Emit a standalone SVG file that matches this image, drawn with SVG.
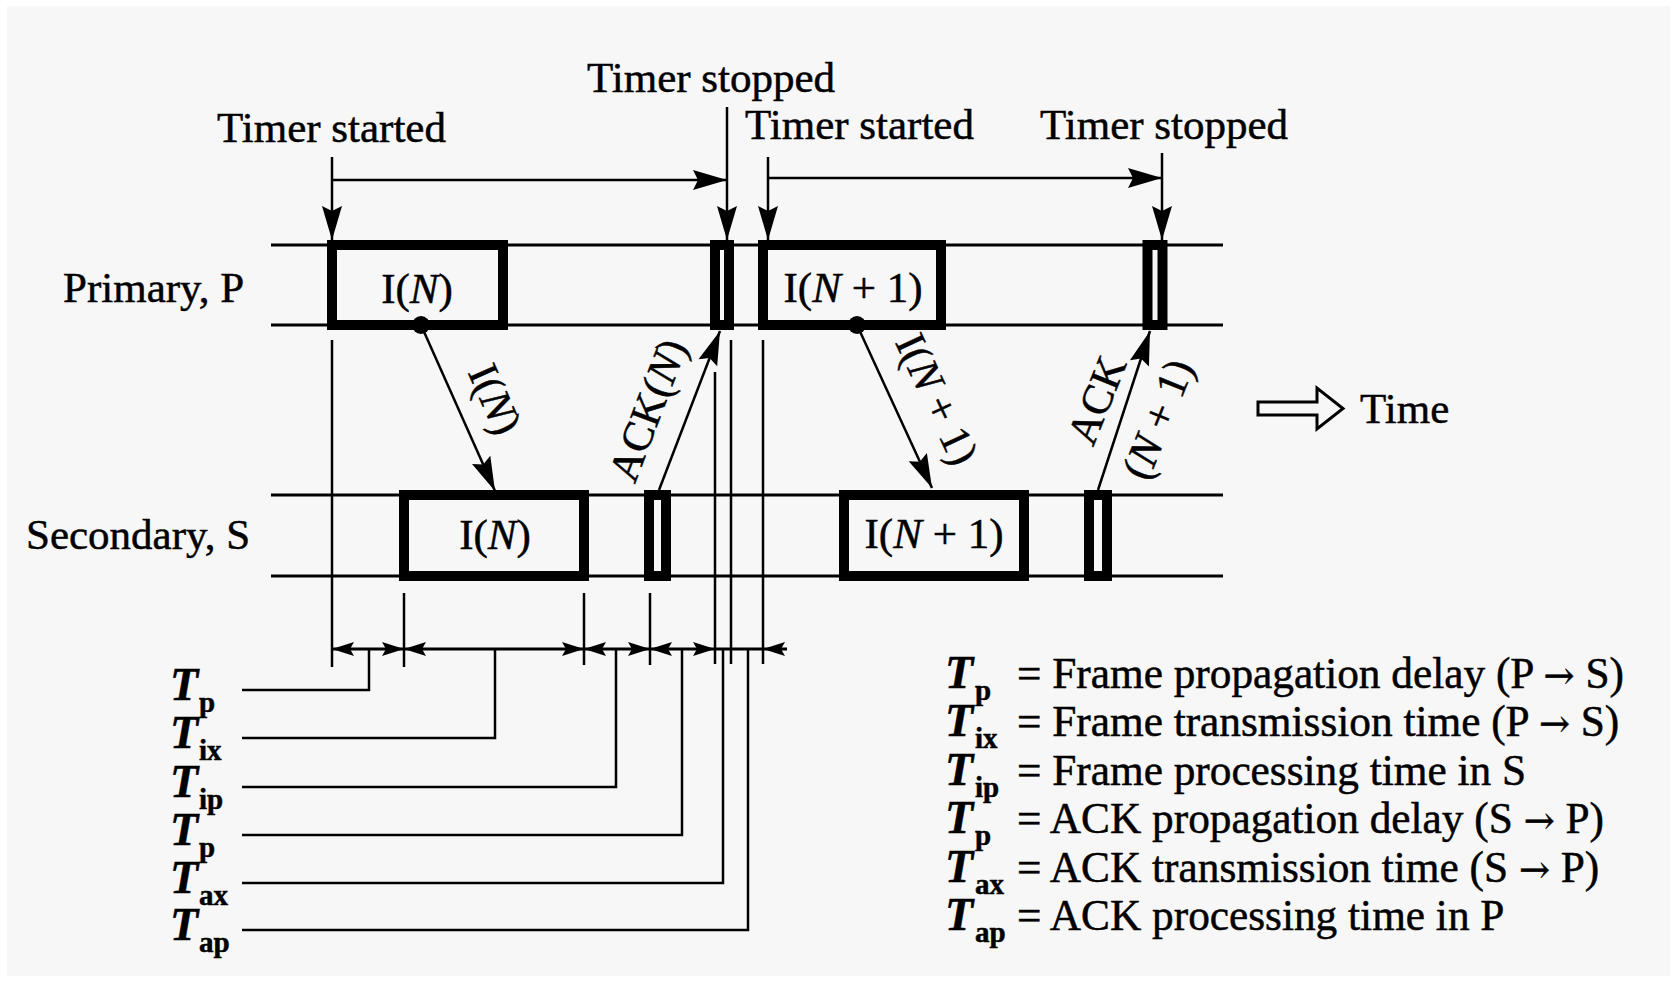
<svg xmlns="http://www.w3.org/2000/svg" width="1678" height="981" viewBox="0 0 1678 981">
<style>
text{font-family:"Liberation Serif","Times New Roman",serif;fill:#000;stroke:#000;stroke-width:0.5}
.t{font-size:43px}
.lg{font-size:43.3px}
.ar{font-family:"DejaVu Serif",serif;font-size:37px}
.it{font-style:italic}
.T{font-size:46px;font-style:italic;font-weight:bold}
.sub{font-size:29px;font-weight:bold}
.ln{stroke:#000;stroke-width:3;fill:none}
.thin{stroke:#000;stroke-width:2.5;fill:none}
.box{stroke:#000;stroke-width:10;fill:none}
</style>
<defs>
<marker id="ah" markerUnits="userSpaceOnUse" markerWidth="40" markerHeight="24" viewBox="-36 -12 40 24" refX="0" refY="0" orient="auto">
<path d="M0,0 L-34,-10 L-29,0 L-34,10 Z" fill="#000"/>
</marker>
<path id="dl" d="M0,0 L22,-7 L18,0 L22,7 Z" fill="#000"/>
<path id="dr" d="M0,0 L-22,-7 L-18,0 L-22,7 Z" fill="#000"/>
</defs>
<rect x="0" y="0" width="1678" height="981" fill="#ffffff"/>
<rect x="7" y="6" width="1663" height="970" fill="#f7f7f7"/>

<g id="timelines">
<line class="ln" x1="271" y1="245" x2="1223" y2="245"/>
<line class="ln" x1="271" y1="325" x2="1223" y2="325"/>
<line class="ln" x1="271" y1="495" x2="1223" y2="495"/>
<line class="ln" x1="271" y1="576" x2="1223" y2="576"/>
</g>

<g id="label-primary"><text class="t" x="63" y="302">Primary, P</text></g>
<g id="label-secondary"><text class="t" x="26" y="549">Secondary, S</text></g>

<g id="frame-IN-P"><rect class="box" x="332" y="245" width="171" height="80"/><text class="t" x="417" y="303" text-anchor="middle">I(<tspan class="it">N</tspan>)</text></g>
<g id="ack-N-P"><rect class="box" x="715" y="245" width="14" height="80"/></g>
<g id="frame-IN1-P"><rect class="box" x="763" y="245" width="178" height="80"/><text class="t" x="853" y="302" text-anchor="middle">I(<tspan class="it">N</tspan> + 1)</text></g>
<g id="ack-N1-P"><rect class="box" x="1147.5" y="245" width="15" height="80"/></g>

<g id="frame-IN-S"><rect class="box" x="404" y="495" width="180" height="81"/><text class="t" x="495" y="549" text-anchor="middle">I(<tspan class="it">N</tspan>)</text></g>
<g id="ack-N-S"><rect class="box" x="649" y="495" width="17" height="81"/></g>
<g id="frame-IN1-S"><rect class="box" x="844" y="495" width="180" height="81"/><text class="t" x="934" y="548" text-anchor="middle">I(<tspan class="it">N</tspan> + 1)</text></g>
<g id="ack-N1-S"><rect class="box" x="1089" y="495" width="18" height="81"/></g>

<g id="timer-labels">
<text class="t" x="587" y="92">Timer stopped</text>
<text class="t" x="217" y="142">Timer started</text>
<text class="t" x="745" y="139">Timer started</text>
<text class="t" x="1040" y="139">Timer stopped</text>
</g>

<g id="connectors">
<line class="thin" x1="332" y1="157" x2="332" y2="240" marker-end="url(#ah)"/>
<line class="thin" x1="332" y1="180" x2="727" y2="180" marker-end="url(#ah)"/>
<line class="thin" x1="727" y1="107" x2="727" y2="240" marker-end="url(#ah)"/>
<line class="thin" x1="768" y1="157" x2="768" y2="240" marker-end="url(#ah)"/>
<line class="thin" x1="768" y1="178" x2="1162" y2="178" marker-end="url(#ah)"/>
<line class="thin" x1="1162" y1="153" x2="1162" y2="240" marker-end="url(#ah)"/>
<circle cx="421" cy="325" r="9" fill="#000"/>
<line class="thin" x1="421" y1="325" x2="495" y2="491" marker-end="url(#ah)"/>
<line class="thin" x1="659" y1="490" x2="720" y2="331" marker-end="url(#ah)"/>
<circle cx="857" cy="325" r="9" fill="#000"/>
<line class="thin" x1="857" y1="325" x2="932" y2="488" marker-end="url(#ah)"/>
<line class="thin" x1="1098" y1="490" x2="1150" y2="331" marker-end="url(#ah)"/>
</g>

<g id="arrow-labels">
<text class="t" transform="translate(493,400) rotate(66)" x="0" y="12" text-anchor="middle">I(<tspan class="it">N</tspan>)</text>
<text class="t" transform="translate(650,411) rotate(-69)" x="0" y="12" text-anchor="middle">ACK(<tspan class="it">N</tspan>)</text>
<text class="t" transform="translate(935,400) rotate(65)" x="0" y="12" text-anchor="middle">I(<tspan class="it">N</tspan> + 1)</text>
<text class="t" transform="translate(1099,401) rotate(-68)" x="0" y="12" text-anchor="middle">ACK</text>
<text class="t" transform="translate(1160,420) rotate(-68)" x="0" y="12" text-anchor="middle">(<tspan class="it">N</tspan> + 1)</text>
</g>

<g id="time-arrow">
<path d="M1258,402 H1317 V388 L1343,408.5 L1317,429 V415 H1258 Z" fill="none" stroke="#000" stroke-width="3" stroke-linejoin="miter"/>
<text class="t" x="1360" y="423">Time</text>
</g>

<g id="dimension">
<line class="thin" x1="332" y1="340" x2="332" y2="667"/>
<line class="thin" x1="404" y1="593" x2="404" y2="667"/>
<line class="thin" x1="584" y1="593" x2="584" y2="665"/>
<line class="thin" x1="650" y1="593" x2="650" y2="665"/>
<line class="thin" x1="715" y1="372" x2="715" y2="664"/>
<line class="thin" x1="731" y1="340" x2="731" y2="664"/>
<line class="thin" x1="763" y1="340" x2="763" y2="664"/>
<line class="ln" x1="332" y1="649" x2="787" y2="649"/>
<use href="#dl" x="332" y="649"/>
<use href="#dr" x="404" y="649"/>
<use href="#dl" x="404" y="649"/>
<use href="#dr" x="584" y="649"/>
<use href="#dl" x="584" y="649"/>
<use href="#dr" x="650" y="649"/>
<use href="#dl" x="650" y="649"/>
<use href="#dr" x="715" y="649"/>
<use href="#dl" x="763" y="649"/>
<polyline class="thin" points="242,690 369,690 369,649"/>
<polyline class="thin" points="242,738 495,738 495,649"/>
<polyline class="thin" points="242,787 616,787 616,649"/>
<polyline class="thin" points="242,835 682,835 682,649"/>
<polyline class="thin" points="242,883 723,883 723,649"/>
<polyline class="thin" points="242,930 748,930 748,649"/>
</g>

<g id="left-labels">
<text class="T" x="170" y="700">T</text><text class="sub" x="199" y="712">p</text>
<text class="T" x="170" y="748">T</text><text class="sub" x="199" y="760">ix</text>
<text class="T" x="170" y="797">T</text><text class="sub" x="199" y="809">ip</text>
<text class="T" x="170" y="845">T</text><text class="sub" x="199" y="857">p</text>
<text class="T" x="170" y="893">T</text><text class="sub" x="199" y="905">ax</text>
<text class="T" x="170" y="940">T</text><text class="sub" x="199" y="952">ap</text>
</g>

<g id="legend">
<text class="T" x="945" y="688">T</text><text class="sub" x="975" y="700">p</text><text class="lg" x="1017" y="688">= Frame propagation delay (P <tspan class="ar">→</tspan> S)</text>
<text class="T" x="945" y="736">T</text><text class="sub" x="975" y="748">ix</text><text class="lg" x="1017" y="736">= Frame transmission time (P <tspan class="ar">→</tspan> S)</text>
<text class="T" x="945" y="785">T</text><text class="sub" x="975" y="797">ip</text><text class="lg" x="1017" y="785">= Frame processing time in S</text>
<text class="T" x="945" y="833">T</text><text class="sub" x="975" y="845">p</text><text class="lg" x="1017" y="833">= ACK propagation delay (S <tspan class="ar">→</tspan> P)</text>
<text class="T" x="945" y="882">T</text><text class="sub" x="975" y="894">ax</text><text class="lg" x="1017" y="882">= ACK transmission time (S <tspan class="ar">→</tspan> P)</text>
<text class="T" x="945" y="930">T</text><text class="sub" x="975" y="942">ap</text><text class="lg" x="1017" y="930">= ACK processing time in P</text>
</g>
</svg>
